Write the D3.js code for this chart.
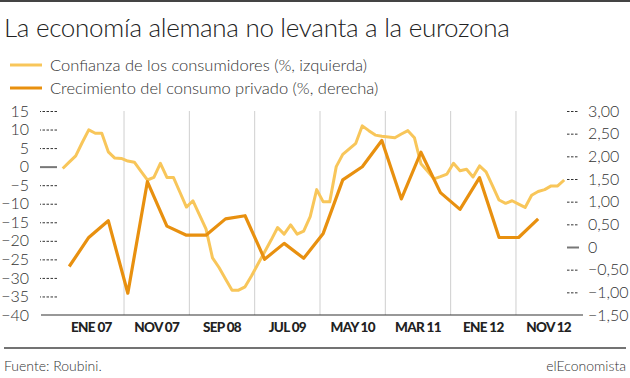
<!DOCTYPE html>
<html>
<head>
<meta charset="utf-8">
<script src="https://cdn.jsdelivr.net/npm/d3@7"></script>
<style>
  body { margin: 0; background: #fff; }
  svg { display: block; font-family: Lato, "Open Sans", sans-serif; }
</style>
</head>
<body>
<div id="chart"></div>
<script>
// x axis labels (one per band)
var periods = ['ENE 07', 'NOV 07', 'SEP 08', 'JUL 09', 'MAY 10', 'MAR 11', 'ENE 12', 'NOV 12'];

// consumer confidence, monthly from ago 2006 (left axis)
var confianza = [-0.5, 1.2, 2.9, 6.5, 9.9, 9.0, 9.0, 4.0, 2.3, 2.2, 1.5, 1.2,
  -1.2, -3.6, -2.9, 0.9, -2.9, -2.9, -6.9, -10.9, -9.2, -13.0, -16.8, -24.6,
  -27.2, -30.3, -33.3, -33.3, -32.4, -29.4, -26.2, -23.0, -19.8, -16.4, -18.2, -15.7,
  -18.2, -17.4, -13.5, -6.2, -9.5, -9.5, 0.0, 3.3, 4.8, 6.3, 11.0, 9.7,
  8.5, 8.2, 8.0, 7.8, 8.8, 9.7, 7.8, 0.8, -1.2, -3.3, -2.7, -2.0,
  0.9, -1.1, -0.7, -2.8, 0.2, -1.4, -5.2, -9.0, -9.9, -9.2, -10.1, -11.0,
  -7.7, -6.7, -6.2, -5.2, -5.2, -3.6];

// private consumption growth, quarterly 3T 2006 - 3T 2012 (right axis)
var consumo = [-0.43, 0.21, 0.58, -1.02, 1.44, 0.46, 0.26, 0.26, 0.62, 0.69,
  -0.27, 0.08, -0.25, 0.30, 1.48, 1.77, 2.35, 1.06, 2.09, 1.20,
  0.83, 1.53, 0.21, 0.21, 0.62];

var leftTicks = [15, 10, 5, 0, -5, -10, -15, -20, -25, -30, -35, -40];
var rightTicks = [3, 2.5, 2, 1.5, 1, 0.5, 0, -0.5, -1, -1.5];

var W = 630, H = 378;
var plotTop = 111, plotBottom = 315;
var yellow = '#f8c65a', orange = '#e8900f';

var svg = d3.select('#chart').append('svg').attr('width', W).attr('height', H);

// header rule + title
svg.append('line').attr('x1', 0).attr('x2', W).attr('y1', 1).attr('y2', 1)
  .attr('stroke', '#444').attr('stroke-width', 2);
svg.append('text').attr('x', 4).attr('y', 37)
  .attr('font-size', 26).attr('font-weight', 300).attr('fill', '#222')
  .attr('letter-spacing', -0.3)
  .text('La economía alemana no levanta a la eurozona');

// legend
var legend = [
  {label: 'Confianza de los consumidores (%, izquierda)', color: yellow},
  {label: 'Crecimiento del consumo privado (%, derecha)', color: orange}
];
legend.forEach(function (d, i) {
  var y = 65 + i * 23;
  svg.append('line').attr('x1', 10).attr('x2', 42).attr('y1', y).attr('y2', y)
    .attr('stroke', d.color).attr('stroke-width', 3);
  svg.append('text').attr('x', 50).attr('y', y + 6)
    .attr('font-size', 16.5).attr('font-weight', 300).attr('fill', '#333')
    .text(d.label);
});

// scales
var yL = d3.scaleLinear().domain([-40, 15]).range([plotBottom, plotTop]);
var yR = d3.scaleLinear().domain([-1.5, 3]).range([plotBottom, plotTop]);
var xM = d3.scaleLinear().domain([0, 77]).range([62.7, 564.2]);
var xB = d3.scaleBand().domain(periods).range([58.7, 581.3]);

// vertical gridlines between bands
svg.append('g').selectAll('line').data(periods.slice(1)).join('line')
  .attr('x1', function (d) { return xB(d); }).attr('x2', function (d) { return xB(d); })
  .attr('y1', plotTop).attr('y2', plotBottom)
  .attr('stroke', '#cfcfcf').attr('stroke-width', 1);

// left axis
var fmtL = function (v) { return v < 0 ? '\u2212' + Math.abs(v) : '' + v; };
var gL = svg.append('g').attr('transform', 'translate(57,0)')
  .call(d3.axisLeft(yL).tickValues(leftTicks).tickSize(17).tickPadding(11).tickFormat(fmtL));
gL.select('.domain').remove();

// right axis
var fmtR = function (v) {
  if (v === 0) return '0';
  var s = d3.format('.2f')(Math.abs(v)).replace('.', ',');
  return v < 0 ? '\u2212' + s : s;
};
var gR = svg.append('g').attr('transform', 'translate(567,0)')
  .call(d3.axisRight(yR).tickValues(rightTicks).tickSize(12).tickPadding(9).tickFormat(fmtR));
gR.select('.domain').remove();

[gL, gR].forEach(function (g) {
  g.selectAll('.tick line')
    .attr('stroke-dasharray', function (d) { return d === 0 ? null : '2.5,1.5'; })
    .attr('stroke', function (d) { return d === 0 ? '#777' : '#333'; })
    .attr('stroke-width', function (d) { return d === 0 ? 2 : 1; });
  g.selectAll('.tick text')
    .attr('font-size', 16).attr('font-weight', 300).attr('fill', '#333')
    .attr('font-family', 'Lato, sans-serif');
  // bottom tick is covered by the baseline
  g.selectAll('.tick').filter(function (d, i, n) { return i === n.length - 1; })
    .select('line').remove();
});

// baseline
svg.append('line').attr('x1', 41).attr('x2', 583).attr('y1', plotBottom).attr('y2', plotBottom)
  .attr('stroke', '#333').attr('stroke-width', 1.2);

// x labels
svg.append('g').selectAll('text').data(periods).join('text')
  .attr('x', function (d) { return xB(d) + xB.bandwidth() / 2; })
  .attr('y', 332)
  .attr('text-anchor', 'middle')
  .attr('font-size', 13.5).attr('font-weight', 900).attr('letter-spacing', -0.7)
  .attr('fill', '#222')
  .text(function (d) { return d; });

// lines
var lineL = d3.line()
  .x(function (d, i) { return xM(i); })
  .y(function (d) { return yL(d); });
var lineR = d3.line()
  .x(function (d, i) { return xM(1 + 3 * i); })
  .y(function (d) { return yR(d); });

svg.append('path').datum(confianza).attr('d', lineL)
  .attr('fill', 'none').attr('stroke', yellow).attr('stroke-width', 3)
  .attr('stroke-linejoin', 'round');
svg.append('path').datum(consumo).attr('d', lineR)
  .attr('fill', 'none').attr('stroke', orange).attr('stroke-width', 3.2)
  .attr('stroke-linejoin', 'round');

// footer
svg.append('line').attr('x1', 4).attr('x2', 626).attr('y1', 348).attr('y2', 348)
  .attr('stroke', '#444').attr('stroke-width', 1.5);
svg.append('text').attr('x', 4).attr('y', 371)
  .attr('font-size', 14).attr('font-weight', 300).attr('fill', '#333')
  .text('Fuente: Roubini.');
svg.append('text').attr('x', 626).attr('y', 371).attr('text-anchor', 'end')
  .attr('font-size', 14).attr('font-weight', 300).attr('fill', '#333')
  .text('elEconomista');
</script>
</body>
</html>
